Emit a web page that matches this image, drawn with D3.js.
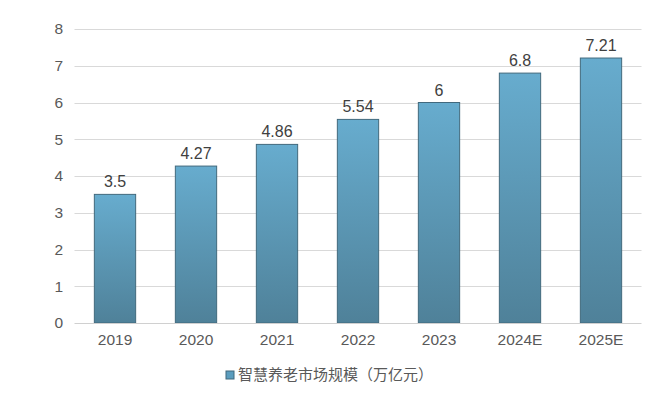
<!DOCTYPE html>
<html><head><meta charset="utf-8">
<script src="https://cdn.jsdelivr.net/npm/d3@7"></script>
<style>body{margin:0;background:#fff;}svg{display:block;font-family:"Liberation Sans",Arial,sans-serif;}</style>
</head><body><svg id="c" width="660" height="396"></svg>
<script>
const categories = ["2019","2020","2021","2022","2023","2024E","2025E"];
const values = [3.5,4.27,4.86,5.54,6,6.8,7.21];
const valueLabels = ["3.5","4.27","4.86","5.54","6","6.8","7.21"];
const yTicks = [0,1,2,3,4,5,6,7,8];
const seriesName = "智慧养老市场规模（万亿元）";

const svg = d3.select("#c");
const x = d3.scaleBand().domain(categories).range([74.5,641.5]).paddingInner(0.49).paddingOuter(0.245);
const y = d3.scaleLinear().domain([0,8]).range([323,29]);

const defs = svg.append("defs");
const g = defs.append("linearGradient").attr("id","bg").attr("x1",0).attr("y1",0).attr("x2",0).attr("y2",1);
g.append("stop").attr("offset","0%").attr("stop-color","#67acce");
g.append("stop").attr("offset","100%").attr("stop-color","#4f8199");

// grid
svg.append("g").selectAll("line").data(yTicks.slice(1)).join("line")
  .attr("x1",74.5).attr("x2",641.5).attr("y1",d=>Math.round(y(d))+0.5).attr("y2",d=>Math.round(y(d))+0.5)
  .attr("stroke","#d9d9d9").attr("stroke-width",1);

// y labels
const ya = svg.append("g").attr("transform","translate(63,0)").call(d3.axisLeft(y).tickValues(yTicks).tickSize(0).tickPadding(0));
ya.select(".domain").remove();
ya.selectAll("text").attr("font-size",15.5).attr("fill","#595959").attr("font-family","Liberation Sans, Arial, sans-serif");

// bars
svg.append("g").selectAll("rect").data(values).join("rect")
  .attr("x",(d,i)=>x(categories[i])).attr("width",x.bandwidth())
  .attr("y",d=>y(d)).attr("height",d=>y(0)-y(d))
  .attr("fill","url(#bg)").attr("stroke","#41697d").attr("stroke-width",1);

// baseline
svg.append("line").attr("x1",74.5).attr("x2",641.5).attr("y1",323.5).attr("y2",323.5).attr("stroke","#d0d0d0");

// x labels
const xa = svg.append("g").attr("transform","translate(0,323)").call(d3.axisBottom(x).tickSize(0).tickPadding(11));
xa.select(".domain").remove();
xa.selectAll("text").attr("font-size",15.5).attr("fill","#595959").attr("font-family","Liberation Sans, Arial, sans-serif");

// value labels
svg.append("g").selectAll("text").data(values).join("text")
  .attr("x",(d,i)=>x(categories[i])+x.bandwidth()/2).attr("y",d=>y(d)-7)
  .attr("text-anchor","middle").attr("font-size",16).attr("fill","#404040")
  .text((d,i)=>valueLabels[i]);

// legend
const lg = svg.append("g").attr("transform","translate(226,371)");
lg.append("rect").attr("x",0).attr("y",0).attr("width",8).attr("height",8).attr("fill","#5b9dbe").attr("stroke","#41697d");
lg.append("text").attr("x",12).attr("y",9).attr("font-size",15).attr("fill","#595959")
  .attr("font-family","Noto Sans CJK SC, sans-serif").text(seriesName);
</script></body></html>
